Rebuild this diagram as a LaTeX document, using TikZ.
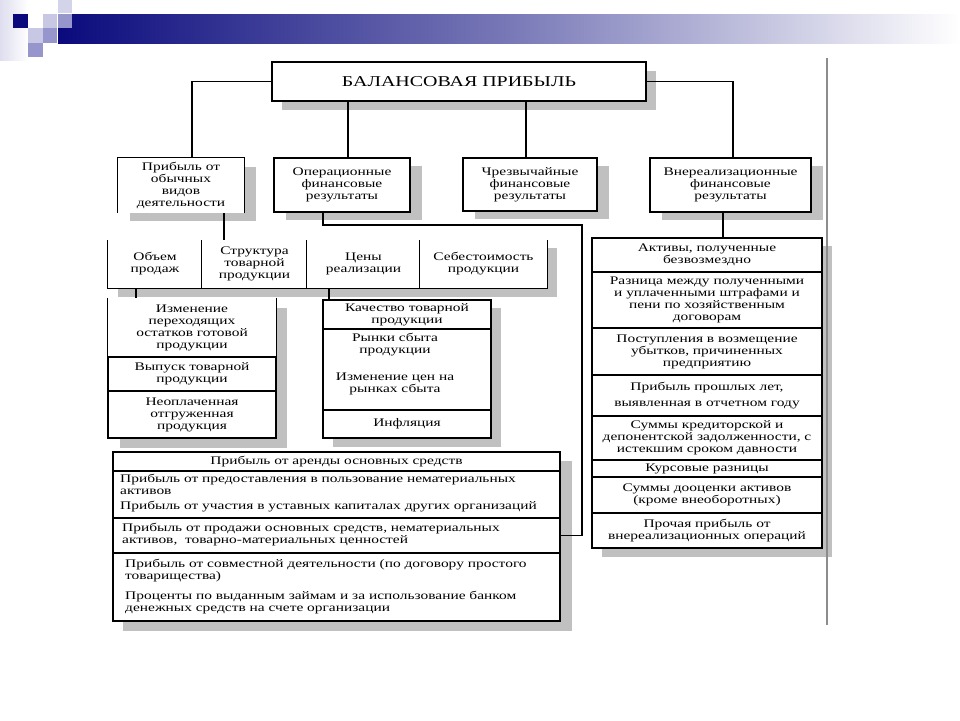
\documentclass[tikz,border=0pt]{standalone}
\usepackage{fontspec}
\setmainfont{Liberation Serif}[FakeStretch=1.33]
\usetikzlibrary{calc}
\definecolor{navy}{RGB}{10,10,125}
\definecolor{sqa}{RGB}{200,200,228}
\definecolor{sqb}{RGB}{150,150,204}
\definecolor{shd}{RGB}{192,192,192}
\definecolor{vline}{RGB}{140,140,140}
\newcommand\fs{\fontsize{11.6}{12}\selectfont}
\newcommand\fh{\fontsize{15}{16}\selectfont}
\begin{document}
\begin{tikzpicture}[x=1pt,y=-1pt,
  cellbox/.style={draw=black,line width=1.2pt,fill=white,inner sep=0pt,align=center,font=\fs},
  openbox/.style={draw=none,fill=white,inner sep=0pt,align=center,font=\fs},
  txt/.style={draw=none,inner sep=0pt,align=left,font=\fs,anchor=west},
  conn/.style={draw=black,line width=1.2pt},
  edgeline/.style={draw=black,line width=1.2pt},
  shadowrect/.style={fill=shd,draw=none}]
\useasboundingbox (0,0) rectangle (960,720);
\fill[white] (0,0) rectangle (960,720);
% header decoration
\shade[left color=sqa!60,right color=white] (0,0) rectangle (28,60);
\shade[left color=navy,right color=white,middle color=navy!55] (58,14) rectangle (960,43);
\fill[navy] (13,14) rectangle (28,28);
\fill[sqa] (43,14) rectangle (57,28);
\fill[sqa!80] (58,0) rectangle (72,13);
\fill[sqb] (58,14) rectangle (72,28);
\fill[sqa] (28,28) rectangle (43,43);
\fill[sqb] (43,28) rectangle (57,43);
\fill[sqb] (28,43) rectangle (43,57);
% shadows
\fill[shadowrect] (282,71) rectangle (656,110);
\fill[shadowrect] (130,167) rectangle (256,221);
\fill[shadowrect] (286,166) rectangle (422,220);
\fill[shadowrect] (475,166) rectangle (609,219);
\fill[shadowrect] (662,166) rectangle (823,220);
\fill[shadowrect] (118,248) rectangle (557,297);
\fill[shadowrect] (120,308) rectangle (287,448);
\fill[shadowrect] (333,308) rectangle (501,447);
\fill[shadowrect] (602,246) rectangle (832,557);
\fill[shadowrect] (123,461) rectangle (572,631);
% gray vertical rule
\draw[vline,line width=2pt] (827,58) -- (827,625);
% coordinates for connector positions
\coordinate (k1) at (192,0);
\coordinate (k2) at (733,0);
\coordinate (k3) at (348,0);
\coordinate (k4) at (526,0);
\coordinate (k5) at (224,0);
\coordinate (j1) at (323,225);
\coordinate (j2) at (582,225);
\coordinate (k7) at (723,0);
\coordinate (k8) at (136,0);
\coordinate (k9) at (329,0);
% main box
\node[cellbox,font=\fh,minimum width=374pt,minimum height=39pt] (main) at (459,81.5) {БАЛАНСОВАЯ ПРИБЫЛЬ};
% second level
\node[openbox,minimum width=126pt,minimum height=55pt] (b1) at (181,185.5) {Прибыль от\\обычных\\видов\\деятельности};
\draw[edgeline] (b1.south west) -- (b1.north west) -- (b1.north east) -- (b1.south east);
\node[cellbox,minimum width=136pt,minimum height=54pt] (b2) at (342,185) {Операционные\\финансовые\\результаты};
\node[cellbox,minimum width=134pt,minimum height=53pt] (b3) at (530,184.5) {Чрезвычайные\\финансовые\\результаты};
\node[cellbox,minimum width=161pt,minimum height=54pt] (b4) at (730.5,185) {Внереализационные\\финансовые\\результаты};
% row of factors
\node[openbox,minimum width=94pt,minimum height=48pt] (r1) at (155,264) {Объем\\продаж};
\node[openbox,minimum width=105pt,minimum height=48pt] (r2) at (254.5,264) {Структура\\товарной\\продукции};
\node[openbox,minimum width=113pt,minimum height=48pt] (r3) at (363.5,264) {Цены\\реализации};
\node[openbox,minimum width=127pt,minimum height=48pt] (r4) at (483.5,264) {Себестоимость\\продукции};
\draw[edgeline] (r1.north west) -- (r1.south west) -- (r4.south east) -- (r4.north east);
\draw[edgeline] (r2.north west) -- (r2.south west) (r3.north west) -- (r3.south west) (r4.north west) -- (r4.south west);
% left stack
\node[openbox,minimum width=168pt,minimum height=59pt] (l1) at (192,327.5) {Изменение\\переходящих\\остатков готовой\\продукции};
\draw[edgeline] (l1.north west) -- (l1.south west) (l1.north east) -- (l1.south east);
\node[cellbox,minimum width=168pt,minimum height=34pt] (l2) at (192,374) {Выпуск товарной\\продукции};
\node[cellbox,minimum width=168pt,minimum height=47pt] (l3) at (192,414.5) {Неоплаченная\\отгруженная\\продукция};
% right stack
\node[cellbox,minimum width=168pt,minimum height=29pt] (q1) at (407,314.5) {Качество товарной\\продукции};
\node[cellbox,minimum width=168pt,minimum height=81pt] (q2) at (407,369.5) {};
\node[openbox,fill=none] (q2t) at (395,364) {Рынки сбыта\\продукции\\[15pt]Изменение цен на\\рынках сбыта};
\node[cellbox,minimum width=168pt,minimum height=28pt] (q3) at (407,424) {Инфляция};
% right column
\node[cellbox,minimum width=230pt,minimum height=34pt] (c1) at (707,255) {Активы, полученные\\безвозмездно};
\node[cellbox,minimum width=230pt,minimum height=56pt] (c2) at (707,300) {Разница между полученными\\и уплаченными штрафами и\\пени по хозяйственным\\договорам};
\node[cellbox,minimum width=230pt,minimum height=47pt] (c3) at (707,351.5) {Поступления в возмещение\\убытков, причиненных\\предприятию};
\node[cellbox,minimum width=230pt,minimum height=41pt] (c4) at (707,395.5) {Прибыль прошлых лет,\\[4pt]выявленная в отчетном году};
\node[cellbox,minimum width=230pt,minimum height=44pt] (c5) at (707,438) {Суммы кредиторской и\\депонентской задолженности, с\\истекшим сроком давности};
\node[cellbox,minimum width=230pt,minimum height=17pt] (c6) at (707,468.5) {Курсовые разницы};
\node[cellbox,minimum width=230pt,minimum height=36pt] (c7) at (707,495) {Суммы дооценки активов\\(кроме внеоборотных)};
\node[cellbox,minimum width=230pt,minimum height=35pt] (c8) at (707,530.5) {Прочая прибыль от\\внереализационных операций};
% bottom box
\node[cellbox,minimum width=447pt,minimum height=19pt] (d1) at (336.5,461.5) {Прибыль от аренды основных средств};
\node[cellbox,minimum width=447pt,minimum height=47pt] (d2) at (336.5,494.5) {};
\node[txt] (d2t) at (120,493) {Прибыль от предоставления в пользование нематериальных\\активов\\[3pt]Прибыль от участия в уставных капиталах других организаций};
\node[cellbox,minimum width=447pt,minimum height=35pt] (d3) at (336.5,535.5) {};
\node[txt] (d3t) at (122,535) {Прибыль от продажи основных средств, нематериальных\\активов,~~товарно-материальных ценностей};
\node[cellbox,minimum width=447pt,minimum height=68pt] (d4) at (336.5,587) {};
\node[txt] (d4t) at (125,587) {Прибыль от совместной деятельности (по договору простого\\товарищества)\\[8pt]Проценты по выданным займам и за использование банком\\денежных средств на счете организации};
% connectors
\draw[conn] (main.west) -| (b1.north -| k1);
\draw[conn] (main.east) -| (b4.north -| k2);
\draw[conn] (main.south -| k3) -- (b2.north -| k3);
\draw[conn] (main.south -| k4) -- (b3.north -| k4);
\draw[conn] (b1.south -| k5) -- (r2.north -| k5);
\draw[conn] (b2.south -| j1) -- (j1) -- (j2) |- (d3.east);
\draw[conn] (b4.south -| k7) -- (c1.north -| k7);
\draw[conn] (r1.south -| k8) -- (l1.north -| k8);
\draw[conn] (r3.south -| k9) -- (q1.north -| k9);
\end{tikzpicture}
\end{document}
